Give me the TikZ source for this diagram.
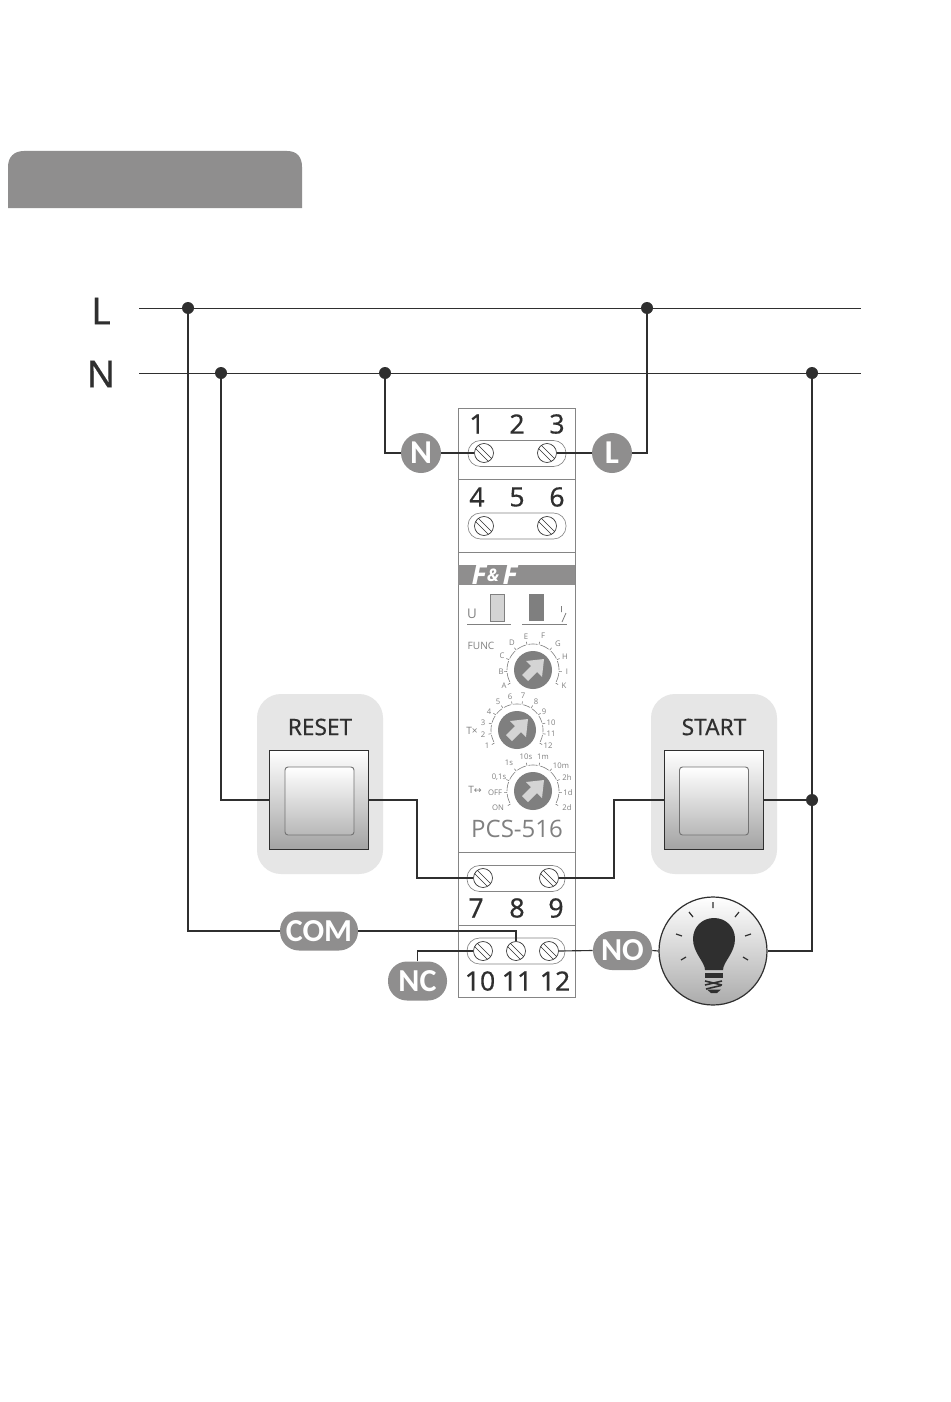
\documentclass[tikz,border=0pt]{standalone}
\usepackage{fontspec}
\setmainfont{Noto Sans}[FakeBold=0.35]
\newfontfamily\medf[FakeBold=0.35]{Noto Sans}
\newfontfamily\heavyf{Carlito}
\newfontfamily\brandf{Open Sans}
\newfontfamily\lightf{Open Sans}
\newfontfamily\arrowf{DejaVu Sans}
\usetikzlibrary{calc}
\newlength\px \setlength\px{0.75pt}
\definecolor{ink}{HTML}{2F2F2F}
\definecolor{pill}{HTML}{8F8E8E}
\definecolor{edge}{HTML}{858585}
\definecolor{soft}{HTML}{E6E6E6}
\definecolor{scale}{HTML}{808080}
\definecolor{dialc}{HTML}{7F7F7F}
\definecolor{arrowc}{HTML}{D4D4D4}
\tikzset{
  x=0.75pt,y=-0.75pt,
  wire/.style={draw=ink,line width=0.85pt},
  rail/.style={draw=ink,line width=0.65pt},
  dot/.style={circle,fill=ink,inner sep=0,minimum size=12\px},
  bigl/.style={text=ink,font=\medf\fontsize{28}{28}\selectfont,inner sep=0},
  num/.style={text=ink,font=\medf\fontsize{20}{20}\selectfont,inner sep=0},
  swlabel/.style={text=ink,font=\medf\fontsize{17}{17}\selectfont,inner sep=0},
  roundpill/.style={fill=pill,text=white,font=\heavyf\bfseries\fontsize{24}{24}\selectfont,inner sep=0,rounded corners=19\px,minimum height=39\px},
  disc/.style={circle,fill=pill,text=white,font=\heavyf\bfseries\fontsize{25}{25}\selectfont,inner sep=0,minimum size=40\px},
  screw/.style={circle,draw=ink,line width=0.5pt,fill=white,inner sep=0,minimum size=19\px,
    path picture={
      \draw[draw=ink,line width=0.45pt] ($(path picture bounding box.north west)+(1,-1)$) -- ($(path picture bounding box.south east)+(1,-1)$);
      \draw[draw=ink,line width=0.45pt] ($(path picture bounding box.north west)+(-1,3)$) -- ($(path picture bounding box.south east)+(-3,1)$);
    }},
  strip/.style={draw=edge,line width=0.5pt,rounded corners=12.5\px,inner sep=0,minimum height=26\px,minimum width=98\px},
  panel/.style={fill=soft,rounded corners=24\px,inner sep=0,minimum width=126\px,minimum height=180\px},
  swouter/.style={draw=ink,line width=0.7pt,inner sep=0,minimum width=99\px,minimum height=99\px,top color=white,bottom color=black!36},
  swinner/.style={draw=black!55,line width=0.7pt,rounded corners=3\px,inner sep=0,minimum width=69\px,minimum height=68\px,top color=white,bottom color=black!28},
  dialk/.style={circle,fill=dialc,inner sep=0,minimum size=38\px},
  tiny/.style={text=scale,font=\lightf\fontsize{5.8}{5.8}\selectfont,inner sep=0},
  small/.style={text=scale,font=\lightf\fontsize{7.6}{7.6}\selectfont,inner sep=0},
  tickl/.style={draw=scale,line width=0.45pt},
}
\newcommand{\bigarrow}[2]{%
  \fill[arrowc] (#1+11,#2-11) -- (#1+9,#2+7) -- (#1+4,#2+2) -- (#1-5,#2+11) -- (#1-11,#2+5) -- (#1-2,#2-4) -- (#1-7,#2-9) -- cycle;}
\newcommand{\dialscale}[5]{% cx cy r n-1 step
  \foreach \k in {0,...,#4}{
    \pgfmathsetmacro{\aa}{210-\k*#5}
    \draw[tickl] ({#1+#3*cos(\aa)},{#2-#3*sin(\aa)}) -- ({#1+(#3+3)*cos(\aa)},{#2-(#3+3)*sin(\aa)});
  }
  \pgfmathtruncatemacro{\lastk}{#4-1}
  \foreach \k in {0,...,\lastk}{
    \pgfmathsetmacro{\aa}{210-\k*#5-3}
    \pgfmathsetmacro{\bb}{210-(\k+1)*#5+3}
    \draw[tickl] plot[domain=\aa:\bb,samples=6] ({#1+#3*cos(\x)},{#2-#3*sin(\x)});
  }}
\begin{document}
\begin{tikzpicture}
\useasboundingbox (0,0) rectangle (950,1402);
\fill[white] (0,0) rectangle (950,1402);

% header bar
\fill[pill] (8,208) -- (8,167) .. controls (8,157) and (14,151) .. (24,151) -- (287,151) .. controls (297,151) and (302,157) .. (302,167) -- (302,208) -- cycle;

% rail labels
\node[bigl] (labL) at (101,311) {L};
\node[bigl] (labN) at (101,374) {N};
\coordinate (Lstart) at (139,308);
\coordinate (Lend) at (861,308);
\coordinate (Nstart) at (139,373);
\coordinate (Nend) at (861,373);
\draw[rail] (Lstart) -- (Lend);
\draw[rail] (Nstart) -- (Nend);

% panels and switches
\node[panel] (pnlR) at (320,784) {};
\node[panel] (pnlS) at (714,784) {};
\node[swouter] (swR) at (318.5,800) {};
\node[swouter] (swS) at (714,800) {};
\node[swinner] (swRi) at (319.5,801) {};
\node[swinner] (swSi) at (714,801) {};
\node[swlabel] (lbR) at (320,727) {RESET};
\node[swlabel] (lbS) at (714,727) {START};

% module
\node[draw=edge,line width=0.6pt,inner sep=0,minimum width=117\px,minimum height=589\px,fill=white] (mod) at (516.5,702.5) {};
\draw[draw=edge,line width=0.6pt] (458,479) -- (575,479) (458,552) -- (575,552) (458,852) -- (575,852) (458,925) -- (575,925);

% strips
\node[strip] (st1) at (517,453.5) {};
\node[strip] (st2) at (517,526) {};
\node[strip] (st3) at (516,878.5) {};
\node[strip] (st4) at (516,951) {};

% screws
\node[screw] (s1) at (484,453) {};
\node[screw] (s3) at (547,453) {};
\node[screw] (s4) at (484,526) {};
\node[screw] (s6) at (547,526) {};
\node[screw] (s7) at (483,878) {};
\node[screw] (s9) at (549,878) {};
\node[screw] (s10) at (483,951) {};
\node[screw] (s11) at (516,951) {};
\node[screw] (s12) at (549,951) {};

% terminal numbers
\node[num] (n1) at (477,424) {1};
\node[num] (n2) at (517,424) {2};
\node[num] (n3) at (557,424) {3};
\node[num] (n4) at (477,497) {4};
\node[num] (n5) at (517,497) {5};
\node[num] (n6) at (557,497) {6};
\node[num] (n7) at (476,908) {7};
\node[num] (n8) at (517,908) {8};
\node[num] (n9) at (556,908) {9};
\node[num] (n10) at (480,981) {10};
\node[num] (n11) at (517,981) {11};
\node[num] (n12) at (555,981) {12};

% brand band
\fill[pill] (458,565) rectangle (575,585);
\node[text=white,font=\brandf\bfseries\itshape\fontsize{21}{21}\selectfont,inner sep=0] (brand1) at (479,575) {F};
\node[text=white,font=\brandf\bfseries\itshape\fontsize{13}{13}\selectfont,inner sep=0] (brand2) at (493,575) {\&};
\node[text=white,font=\brandf\bfseries\itshape\fontsize{21}{21}\selectfont,inner sep=0] (brand3) at (510,575) {F};

% indicators
\node[fill=arrowc,draw=black!50,line width=0.4pt,inner sep=0,minimum width=14\px,minimum height=27\px] (ledU) at (497,607.5) {};
\node[fill=dialc,inner sep=0,minimum width=15\px,minimum height=27\px] (ledR) at (536.5,607.5) {};
\draw[draw=scale,line width=0.5pt] (467,624) -- (511,624) (522,624) -- (567,624);
\draw[draw=scale,line width=0.6pt] (561.5,606) -- (561.5,612) (562,622) -- (566,613);
\node[small,font=\lightf\fontsize{10}{10}\selectfont] (tU) at (472,614) {U};
\node[small] (tFUNC) at (481,646) {FUNC};

% dial 1
\dialscale{533}{670}{26}{9}{26.67}
\node[dialk] (d1) at (533,670) {};
\bigarrow{533}{670}
\foreach \t/\xx/\yy in {A/504/686,B/501/672,C/502/656,D/512/643,E/526/637,F/543/636,G/558/644,H/565/657,I/567/672,K/564/686}{
  \node[tiny] (f\t) at (\xx,\yy) {\t};}

% dial 2
\dialscale{517}{730}{26}{11}{21.82}
\node[dialk] (d2) at (517,730) {};
\bigarrow{517}{730}
\foreach \t/\xx/\yy in {1/487/746,2/483/735,3/483/723,4/489/712,5/498/702,6/510/697,7/523/696,8/536/702,9/544/712,10/551/723,11/551/734,12/548/746}{
  \node[tiny] (m\t) at (\xx,\yy) {\t};}
\node[small] (tX) at (472,731) {T×};

% dial 3
\dialscale{533}{791}{26}{9}{26.67}
\node[dialk] (d3) at (533,791) {};
\bigarrow{533}{791}
\foreach \t/\xx/\yy/\nm in {ON/498/808/a,OFF/495/793/b,{0,1s}/499/777/c,1s/509/763/d,10s/526/757/e,1m/543/757/f,10m/561/766/g,2h/567/778/h,1d/568/793/i,2d/567/808/j}{
  \node[tiny] (t\nm) at (\xx,\yy) {\t};}
\node[small] (tT) at (475,790) {T{\arrowf\fontsize{7}{7}\selectfont ↔}};
\node[text=black!50,font=\lightf\fontsize{18}{18}\selectfont,inner sep=0] (model) at (517,829) {PCS-516};

% tag nodes
\node[disc] (tagN) at (421,453) {N};
\node[disc] (tagL) at (612,453) {L};
\node[roundpill,minimum width=78\px] (tagCOM) at (319,931) {COM};
\node[roundpill,minimum width=59\px] (tagNO) at (622.5,950.5) {NO};
\node[roundpill,minimum width=59\px] (tagNC) at (417.5,981) {NC};

% lamp
\node[circle,draw=ink,line width=0.9pt,inner sep=0,minimum size=108\px,top color=white,bottom color=black!33] (lamp) at (713,951) {};
\fill[ink] (705,970) .. controls (705,962) and (693,953) .. (693,939) .. controls (693,927) and (702,918) .. (714,918) .. controls (726,918) and (735,927) .. (735,939) .. controls (735,953) and (723,962) .. (723,970) -- cycle;
\fill[ink] (705,973) -- (723,973) -- (723,978) -- (705,978) -- cycle;
\draw[ink,line width=1.2pt] (705,981) -- (722,985) (705,985) -- (722,981) (706,989) -- (721,985.5);
\fill[ink] (707,989.5) -- (721,989.5) -- (717,993) -- (711,993) -- cycle;
\draw[ink,line width=0.9pt] (713,902) -- (713,908) (689,912) -- (693,917) (739,912) -- (735,917) (676,934) -- (682,936) (751,934) -- (745,936) (681,960) -- (686,957) (748,960) -- (743,957);

% junction dots
\node[dot] (jL1) at (188,308) {};
\node[dot] (jL2) at (647,308) {};
\node[dot] (jN1) at (221,373) {};
\node[dot] (jN2) at (385,373) {};
\node[dot] (jN3) at (812,373) {};
\node[dot] (jN4) at (812,800) {};

% wiring
\draw[wire] (jL1.center) |- (tagCOM.west);
\draw[wire] (tagCOM.east) -| (s11.north);
\draw[wire] (jN1.center) |- (swR.west);
\draw[wire] (jN2.center) |- (tagN.west);
\draw[wire] (tagN.east) -- (s1.west);
\draw[wire] (jL2.center) |- (tagL.east);
\draw[wire] (tagL.west) -- (s3.east);
\draw[wire] (swR.east) -- (417,800) |- (s7.west);
\draw[wire] (s9.east) -- (614,878) |- (swS.west);
\draw[wire] (swS.east) -- (jN4.center);
\draw[wire] (jN3.center) -- (jN4.center) |- (lamp.east);
\draw[wire] (tagNC.north) |- (s10.west);
\draw[wire] (s12.east) -- (tagNO.west);
\draw[wire] (tagNO.east) -- (lamp.west);
\end{tikzpicture}
\end{document}
